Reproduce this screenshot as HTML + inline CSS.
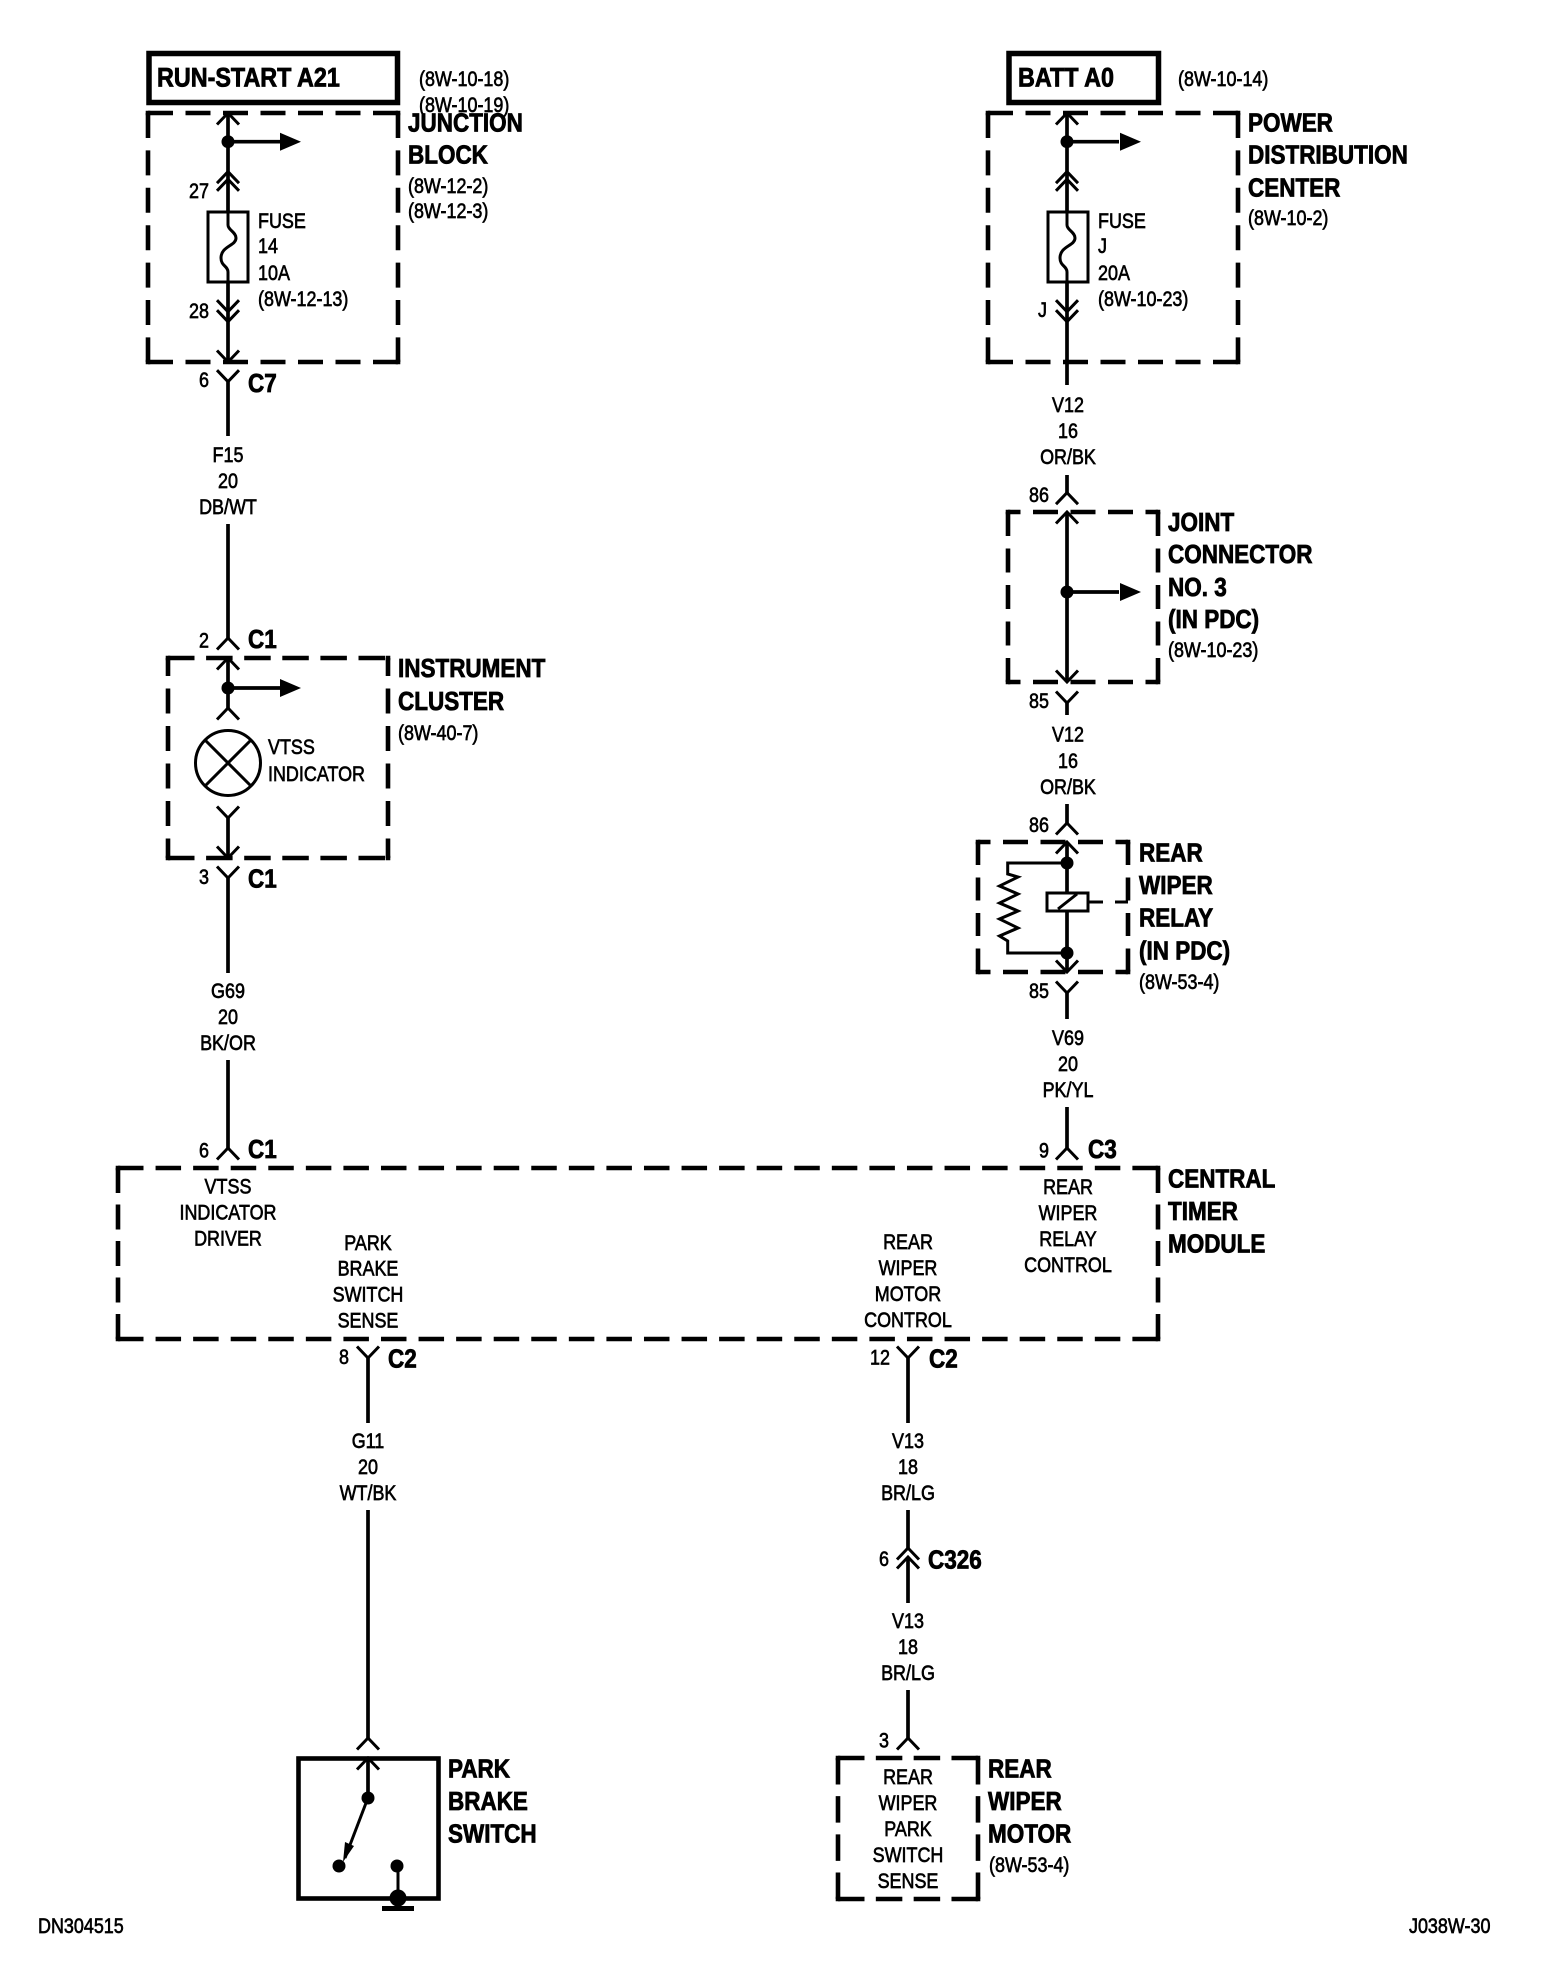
<!DOCTYPE html>
<html><head><meta charset="utf-8"><title>Diagram</title>
<style>
html,body{margin:0;padding:0;background:#fff}
svg{display:block}
text{font-family:"Liberation Sans",sans-serif;fill:#000;stroke:#000;transform-box:fill-box;transform-origin:0 50%}
.s{font-size:21px;stroke-width:.65px;transform:scaleX(.855)}
.b{font-size:26px;font-weight:bold;stroke-width:.8px;transform:scaleX(.865)}
.h{font-size:27px}
.m{text-anchor:middle;transform-origin:50% 50%}
.w{fill:none;stroke:#000;stroke-width:3.7}
.t{fill:none;stroke:#000;stroke-width:3}
.n{fill:none;stroke:#000;stroke-width:3}
.x{fill:none;stroke:#000;stroke-width:4.6}
.y{fill:none;stroke:#000;stroke-width:5.5}
.k{fill:none;stroke:#000;stroke-width:4.6;stroke-linecap:square}
</style></head><body>
<svg xmlns="http://www.w3.org/2000/svg" width="1568" height="1976" viewBox="0 0 1568 1976">
<defs>
<path id="u" class="t" d="M-11 11.5L0 0L11 11.5"/>
<path id="d" class="t" d="M-11 -11.5L0 0L11 -11.5"/>
<path id="fz" class="n" d="M0 0V13C0 18 8 20 8 26C8 34 -7 34 -7 46C-7 54 0 54 0 60V70"/>
<path id="ar" d="M0 0L52 0" class="w"/>
<path id="hd" d="M0 -9L21 0L0 9Z" fill="#000"/>
</defs>
<rect width="1568" height="1976" fill="#fff"/>

<!-- Top source boxes -->
<rect x="149" y="53.500" width="248.500" height="49" class="y"/>
<rect x="1009" y="53.500" width="149.500" height="49" class="y"/>
<text class="b h" x="157" y="86.500">RUN-START A21</text>
<text class="b h" x="1018" y="86.500">BATT A0</text>
<text class="s" x="419" y="86">(8W-10-18)</text>
<text class="s" x="419" y="112">(8W-10-19)</text>
<text class="s" x="1178" y="86">(8W-10-14)</text>

<!-- Junction block -->
<path class="x" stroke-dasharray="25 12.5" d="M148 113H398"/>
<path class="x" stroke-dasharray="25 12.5" d="M148 362H398"/>
<path class="x" stroke-dasharray="25 12.4" d="M148 113V362"/>
<path class="x" stroke-dasharray="25 12.4" d="M398 113V362"/>
<path class="k" d="M148 113h0M398 113h0M148 362h0M398 362h0"/>
<path class="w" d="M228 113V212M228 282V362"/>
<use href="#u" x="228" y="113"/>
<circle cx="228" cy="141.700" r="6.500"/>
<use href="#ar" x="228" y="141.700"/><use href="#hd" x="280" y="141.700"/>
<use href="#u" x="228" y="171.700"/><use href="#u" x="228" y="179.300"/>
<rect x="208" y="212" width="40" height="70" class="n"/>
<use href="#fz" x="228" y="212"/>
<use href="#d" x="228" y="311.700"/><use href="#d" x="228" y="321.700"/>
<use href="#d" x="228" y="362"/>
<use href="#d" x="228" y="381.700"/>
<path class="w" d="M228 381.700V436"/>
<text class="b" x="408" y="131.500">JUNCTION</text>
<text class="b" x="408" y="163.500">BLOCK</text>
<text class="s" x="408" y="193">(8W-12-2)</text>
<text class="s" x="408" y="218">(8W-12-3)</text>
<text class="s" x="258" y="228">FUSE</text>
<text class="s" x="258" y="253">14</text>
<text class="s" x="258" y="280">10A</text>
<text class="s" x="258" y="306">(8W-12-13)</text>
<text class="s" x="189" y="198">27</text>
<text class="s" x="189" y="318">28</text>
<text class="s" x="199" y="387">6</text>
<text class="b" x="248" y="392">C7</text>
<text class="s m" x="228" y="462">F15</text>
<text class="s m" x="228" y="488">20</text>
<text class="s m" x="228" y="514">DB/WT</text>

<!-- Left wire to cluster -->
<path class="w" d="M228 524V638"/>
<use href="#u" x="228" y="638"/>
<text class="s" x="199" y="647.500">2</text>
<text class="b" x="248" y="648">C1</text>

<!-- Instrument cluster -->
<path class="x" stroke-dasharray="26.500 11.600" d="M168 658H388"/>
<path class="x" stroke-dasharray="26.500 11.600" d="M168 858H388"/>
<path class="x" stroke-dasharray="25 12.500" stroke-dashoffset="7" d="M168 658V858"/>
<path class="x" stroke-dasharray="25 12.500" stroke-dashoffset="7" d="M388 658V858"/>
<path class="k" d="M168 658h0M388 658h0M168 858h0M388 858h0"/>
<path class="w" d="M228 658V708"/>
<use href="#u" x="228" y="658"/>
<circle cx="228" cy="688" r="6.500"/>
<use href="#ar" x="228" y="688"/><use href="#hd" x="280" y="688"/>
<use href="#u" x="228" y="708"/>
<circle cx="228" cy="763" r="32.500" class="t"/>
<path class="t" d="M205 740L251 786M251 740L205 786"/>
<text class="s" x="268" y="754">VTSS</text>
<text class="s" x="268" y="781">INDICATOR</text>
<use href="#d" x="228" y="818"/>
<path class="w" d="M228 818V858"/>
<use href="#d" x="228" y="858"/>
<use href="#d" x="228" y="878"/>
<path class="w" d="M228 878V973"/>
<text class="b" x="398" y="677">INSTRUMENT</text>
<text class="b" x="398" y="710">CLUSTER</text>
<text class="s" x="398" y="740">(8W-40-7)</text>
<text class="s" x="199" y="884">3</text>
<text class="b" x="248" y="887.500">C1</text>
<text class="s m" x="228" y="998">G69</text>
<text class="s m" x="228" y="1024">20</text>
<text class="s m" x="228" y="1050">BK/OR</text>
<path class="w" d="M228 1060V1148"/>
<use href="#u" x="228" y="1148"/>
<text class="s" x="199" y="1157.500">6</text>
<text class="b" x="248" y="1158">C1</text>

<!-- PDC -->
<path class="x" stroke-dasharray="25 12.5" d="M988 113H1238"/>
<path class="x" stroke-dasharray="25 12.5" d="M988 362H1238"/>
<path class="x" stroke-dasharray="25 12.4" d="M988 113V362"/>
<path class="x" stroke-dasharray="25 12.4" d="M1238 113V362"/>
<path class="k" d="M988 113h0M1238 113h0M988 362h0M1238 362h0"/>
<path class="w" d="M1067 113V212M1067 282V385"/>
<use href="#u" x="1067" y="113"/>
<circle cx="1067" cy="141.700" r="6.500"/>
<use href="#ar" x="1067" y="141.700"/><use href="#hd" x="1120" y="141.700"/>
<use href="#u" x="1067" y="171.700"/><use href="#u" x="1067" y="179.300"/>
<rect x="1048" y="212" width="40" height="70" class="n"/>
<use href="#fz" x="1067" y="212"/>
<use href="#d" x="1067" y="311.700"/><use href="#d" x="1067" y="321.700"/>
<text class="b" x="1248" y="131.500">POWER</text>
<text class="b" x="1248" y="163.500">DISTRIBUTION</text>
<text class="b" x="1248" y="196.500">CENTER</text>
<text class="s" x="1248" y="225">(8W-10-2)</text>
<text class="s" x="1098" y="228">FUSE</text>
<text class="s" x="1098" y="253">J</text>
<text class="s" x="1098" y="280">20A</text>
<text class="s" x="1098" y="306">(8W-10-23)</text>
<text class="s" x="1038" y="317">J</text>
<text class="s m" x="1068" y="412">V12</text>
<text class="s m" x="1068" y="438">16</text>
<text class="s m" x="1068" y="464">OR/BK</text>

<!-- Joint connector -->
<path class="w" d="M1067 475V492.700"/>
<use href="#u" x="1067" y="492.700"/>
<text class="s" x="1029" y="502">86</text>
<path class="x" stroke-dasharray="25 12.500" stroke-dashoffset="12.500" d="M1008 512H1158"/>
<path class="x" stroke-dasharray="25 12.500" stroke-dashoffset="12.500" d="M1008 682H1158"/>
<path class="x" stroke-dasharray="24 12.500" d="M1008 512V682"/>
<path class="x" stroke-dasharray="24 12.500" d="M1158 512V682"/>
<path class="k" d="M1008 512h0M1158 512h0M1008 682h0M1158 682h0"/>
<path class="w" d="M1067 512V682"/>
<use href="#u" x="1067" y="512"/>
<circle cx="1067" cy="592" r="6.500"/>
<use href="#ar" x="1067" y="592"/><use href="#hd" x="1120" y="592"/>
<use href="#d" x="1067" y="682"/>
<use href="#d" x="1067" y="703"/>
<path class="w" d="M1067 703V715"/>
<text class="b" x="1168" y="531">JOINT</text>
<text class="b" x="1168" y="563">CONNECTOR</text>
<text class="b" x="1168" y="596">NO. 3</text>
<text class="b" x="1168" y="628">(IN PDC)</text>
<text class="s" x="1168" y="657">(8W-10-23)</text>
<text class="s" x="1029" y="708">85</text>
<text class="s m" x="1068" y="741.500">V12</text>
<text class="s m" x="1068" y="768">16</text>
<text class="s m" x="1068" y="794">OR/BK</text>

<!-- Relay -->
<path class="w" d="M1067 804V823"/>
<use href="#u" x="1067" y="823"/>
<text class="s" x="1029" y="832">86</text>
<path class="x" stroke-dasharray="25 12.500" stroke-dashoffset="12.500" d="M978 842H1128"/>
<path class="x" stroke-dasharray="25 12.500" stroke-dashoffset="12.500" d="M978 972H1128"/>
<path class="x" stroke-dasharray="23 12.500" d="M978 842V972"/>
<path class="x" stroke-dasharray="23 12.500" d="M1128 842V972"/>
<path class="k" d="M978 842h0M1128 842h0M978 972h0M1128 972h0"/>
<path class="w" d="M1067 842V893M1067 911V972"/>
<use href="#u" x="1067" y="842"/>
<circle cx="1067" cy="863" r="6.500"/>
<circle cx="1067" cy="953" r="6.500"/>
<path class="t" d="M1067 863H1007.700V874L1018 877L999.500 886L1018 894L999.500 903L1018 911L999.500 919L1018 928L999.500 936L1007.700 941V953H1067"/>
<rect x="1047" y="893" width="41" height="18" class="t"/>
<path class="t" d="M1058 909L1077 894M1088 902H1103"/>
<path class="x" d="M1115 902H1128" style="stroke-width:3"/>
<use href="#d" x="1067" y="972"/>
<use href="#d" x="1067" y="993"/>
<path class="w" d="M1067 993V1019"/>
<text class="b" x="1139" y="861.500">REAR</text>
<text class="b" x="1139" y="894">WIPER</text>
<text class="b" x="1139" y="926.500">RELAY</text>
<text class="b" x="1139" y="959.500">(IN PDC)</text>
<text class="s" x="1139" y="989">(8W-53-4)</text>
<text class="s" x="1029" y="998">85</text>
<text class="s m" x="1068" y="1045">V69</text>
<text class="s m" x="1068" y="1071">20</text>
<text class="s m" x="1068" y="1097">PK/YL</text>
<path class="w" d="M1067 1107V1148"/>
<use href="#u" x="1067" y="1148"/>
<text class="s" x="1039" y="1157.500">9</text>
<text class="b" x="1088" y="1158">C3</text>

<!-- Central timer module -->
<path class="x" stroke-dasharray="25.500 12.070" d="M118 1168H1158"/>
<path class="x" stroke-dasharray="25.500 12.070" d="M118 1339H1158"/>
<path class="x" stroke-dasharray="25 11.500" d="M118 1168V1339"/>
<path class="x" stroke-dasharray="25 11.500" d="M1158 1168V1339"/>
<path class="k" d="M118 1168h0M1158 1168h0M118 1339h0M1158 1339h0"/>
<text class="b" x="1168" y="1187.500">CENTRAL</text>
<text class="b" x="1168" y="1220">TIMER</text>
<text class="b" x="1168" y="1252.500">MODULE</text>
<text class="s m" x="228" y="1193.500">VTSS</text>
<text class="s m" x="228" y="1219.500">INDICATOR</text>
<text class="s m" x="228" y="1245.500">DRIVER</text>
<text class="s m" x="368" y="1250">PARK</text>
<text class="s m" x="368" y="1275.500">BRAKE</text>
<text class="s m" x="368" y="1301.500">SWITCH</text>
<text class="s m" x="368" y="1327.500">SENSE</text>
<text class="s m" x="908" y="1249">REAR</text>
<text class="s m" x="908" y="1275">WIPER</text>
<text class="s m" x="908" y="1301">MOTOR</text>
<text class="s m" x="908" y="1327">CONTROL</text>
<text class="s m" x="1068" y="1194">REAR</text>
<text class="s m" x="1068" y="1220">WIPER</text>
<text class="s m" x="1068" y="1246">RELAY</text>
<text class="s m" x="1068" y="1272">CONTROL</text>

<!-- Park brake wire -->
<use href="#d" x="368" y="1358"/>
<path class="w" d="M368 1358V1423"/>
<text class="s" x="339" y="1364">8</text>
<text class="b" x="388" y="1367.500">C2</text>
<text class="s m" x="368" y="1448">G11</text>
<text class="s m" x="368" y="1474">20</text>
<text class="s m" x="368" y="1500">WT/BK</text>
<path class="w" d="M368 1510V1738"/>
<use href="#u" x="368" y="1738"/>

<!-- Park brake switch -->
<rect x="298.500" y="1758.500" width="140" height="140" class="x"/>
<use href="#u" x="368" y="1758"/>
<path class="w" d="M368 1758V1798"/>
<circle cx="368" cy="1798" r="6.500"/>
<path class="t" d="M366 1803L345 1858"/>
<path d="M343 1862L345 1842L354 1846Z" fill="#000"/>
<circle cx="339" cy="1866" r="6.500"/>
<circle cx="397" cy="1866" r="6.500"/>
<path class="t" d="M398 1866V1898"/>
<circle cx="398" cy="1898" r="8.500"/>
<rect x="382" y="1906" width="32" height="5"/>
<text class="b" x="448" y="1777.500">PARK</text>
<text class="b" x="448" y="1810">BRAKE</text>
<text class="b" x="448" y="1842.500">SWITCH</text>

<!-- Rear wiper motor wire -->
<use href="#d" x="908" y="1358"/>
<path class="w" d="M908 1358V1423"/>
<text class="s" x="870" y="1364.500">12</text>
<text class="b" x="929" y="1367.500">C2</text>
<text class="s m" x="908" y="1448">V13</text>
<text class="s m" x="908" y="1474">18</text>
<text class="s m" x="908" y="1500">BR/LG</text>
<path class="w" d="M908 1510V1548"/>
<use href="#u" x="908" y="1548"/><use href="#u" x="908" y="1557"/>
<path class="w" d="M908 1557V1603"/>
<text class="s" x="879" y="1566">6</text>
<text class="b" x="928" y="1568.500">C326</text>
<text class="s m" x="908" y="1628">V13</text>
<text class="s m" x="908" y="1654">18</text>
<text class="s m" x="908" y="1680">BR/LG</text>
<path class="w" d="M908 1690V1738"/>
<use href="#u" x="908" y="1738"/>
<text class="s" x="879" y="1747.500">3</text>

<!-- Rear wiper motor -->
<path class="x" stroke-dasharray="26.500 11.330" d="M838 1758H978"/>
<path class="x" stroke-dasharray="26.500 11.330" d="M838 1899H978"/>
<path class="x" stroke-dasharray="26.500 11.670" d="M838 1758V1899"/>
<path class="x" stroke-dasharray="26.500 11.670" d="M978 1758V1899"/>
<path class="k" d="M838 1758h0M978 1758h0M838 1899h0M978 1899h0"/>
<text class="s m" x="908" y="1784">REAR</text>
<text class="s m" x="908" y="1810">WIPER</text>
<text class="s m" x="908" y="1836">PARK</text>
<text class="s m" x="908" y="1862">SWITCH</text>
<text class="s m" x="908" y="1888">SENSE</text>
<text class="b" x="988" y="1777.500">REAR</text>
<text class="b" x="988" y="1810">WIPER</text>
<text class="b" x="988" y="1842.500">MOTOR</text>
<text class="s" x="989" y="1872">(8W-53-4)</text>

<text class="s" x="38" y="1933">DN304515</text>
<text class="s" x="1409" y="1933">J038W-30</text>
</svg>
</body></html>
